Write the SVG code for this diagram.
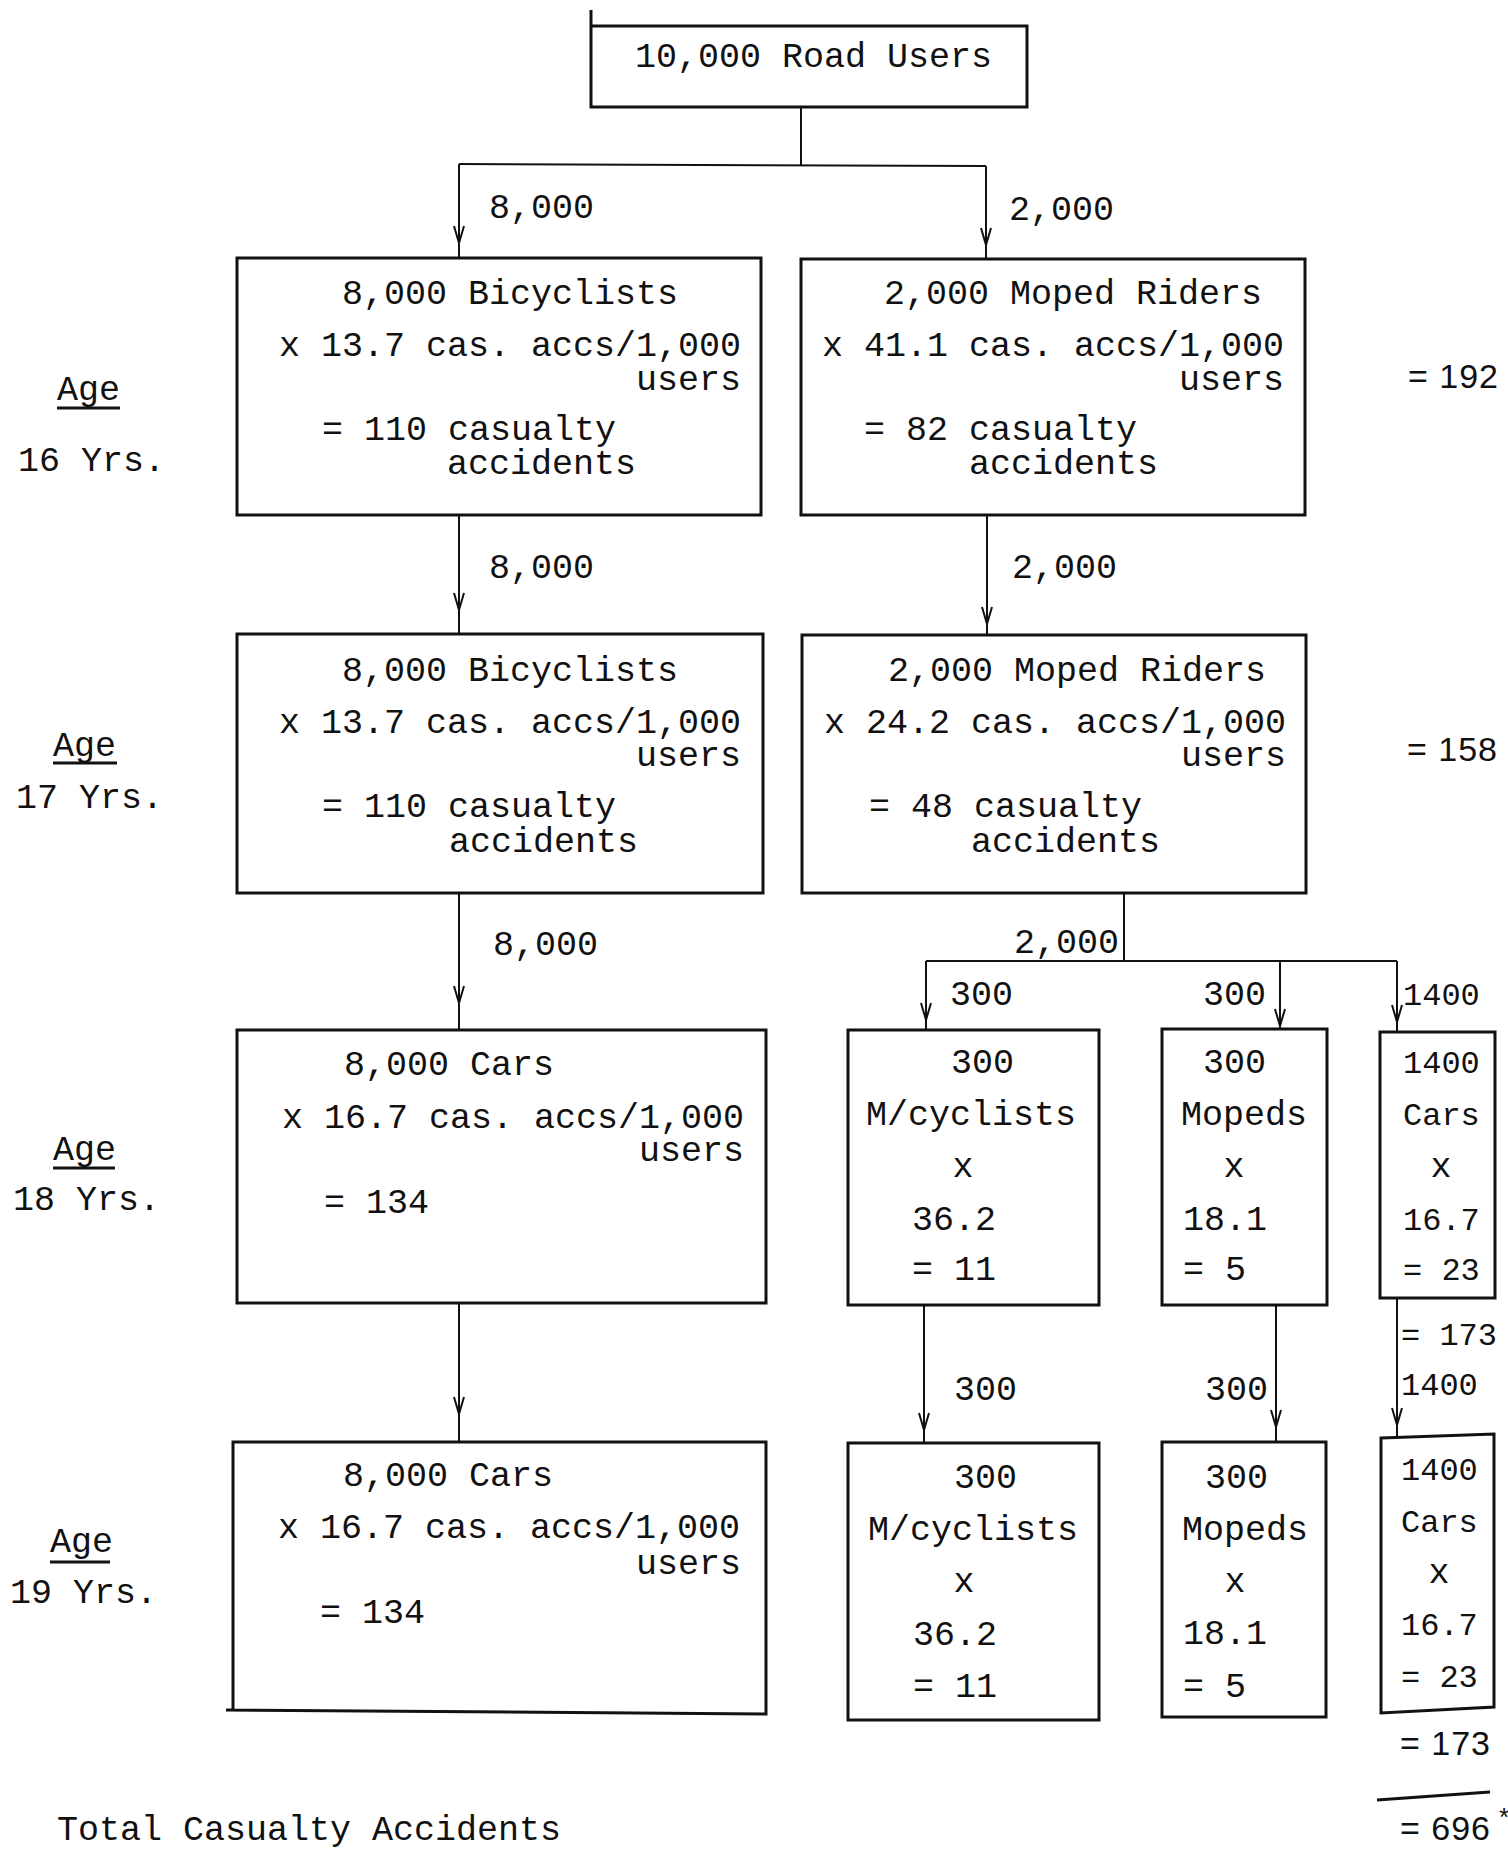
<svg xmlns="http://www.w3.org/2000/svg" width="1508" height="1849" viewBox="0 0 1508 1849">
<style>
.box{fill:none;stroke:#111;stroke-width:3;stroke-linejoin:miter}
.conn{fill:none;stroke:#111;stroke-width:2}
.ul{stroke:#111;stroke-width:3}
.t{font-family:"Liberation Mono","DejaVu Sans Mono",monospace;font-size:35px;fill:#111}
.s{font-size:32px}
.h{font-family:"Liberation Sans","DejaVu Sans",sans-serif;font-size:34px;fill:#111;letter-spacing:1px}
.e{text-anchor:end}
.m{text-anchor:middle}
</style>
<defs>
<marker id="v" markerUnits="userSpaceOnUse" viewBox="-20 -8 22 16" refX="0" refY="0" markerWidth="22" markerHeight="16" orient="auto">
<path d="M -17 -5 L 0 0 L -17 5" fill="none" stroke="#111" stroke-width="2"/>
</marker>
</defs>
<rect width="1508" height="1849" fill="#fff"/>

<g id="connectors">
<path class="conn" d="M 801 108 V 165"/>
<path class="conn" d="M 459 164 L 986 166"/>
<path class="conn" marker-mid="url(#v)" d="M 459 164 L 459 243 L 459 258"/>
<path class="conn" marker-mid="url(#v)" d="M 986 166 L 986 245 L 986 259"/>
<path class="conn" marker-mid="url(#v)" d="M 459 515 L 459 610 L 459 634"/>
<path class="conn" marker-mid="url(#v)" d="M 987 515 L 987 624 L 987 635"/>
<path class="conn" marker-mid="url(#v)" d="M 459 893 L 459 1003 L 459 1030"/>
<path class="conn" d="M 1124 893 V 961"/>
<path class="conn" d="M 926 961 H 1397"/>
<path class="conn" marker-mid="url(#v)" d="M 926 961 L 926 1020 L 926 1030"/>
<path class="conn" marker-mid="url(#v)" d="M 1280 961 L 1280 1026 L 1280 1029"/>
<path class="conn" marker-mid="url(#v)" d="M 1397 961 L 1397 1022 L 1397 1032"/>
<path class="conn" marker-mid="url(#v)" d="M 459 1303 L 459 1414 L 459 1442"/>
<path class="conn" marker-mid="url(#v)" d="M 924 1305 L 924 1430 L 924 1443"/>
<path class="conn" marker-mid="url(#v)" d="M 1276 1305 L 1276 1427 L 1276 1442"/>
<path class="conn" marker-mid="url(#v)" d="M 1397 1298 L 1397 1425 L 1397 1437"/>
<text class="t" x="489" y="218">8,000</text>
<text class="t" x="1009" y="220">2,000</text>
<text class="t" x="489" y="578">8,000</text>
<text class="t" x="1012" y="578">2,000</text>
<text class="t" x="493" y="955">8,000</text>
<text class="t" x="1014" y="953">2,000</text>
<text class="t" x="950" y="1005">300</text>
<text class="t" x="1203" y="1005">300</text>
<text class="t s" x="1403" y="1005">1400</text>
<text class="t" x="954" y="1400">300</text>
<text class="t" x="1205" y="1400">300</text>
<text class="t s" x="1401" y="1345">= 173</text>
<text class="t s" x="1401" y="1395">1400</text>
</g>

<g id="root">
<path class="box" d="M 591 10 V 107 H 1027 V 26 H 591"/>
<text class="t" x="635" y="67">10,000 Road Users</text>
</g>

<g id="bicyclists16">
<rect class="box" x="237" y="258" width="524" height="257"/>
<text class="t" x="342" y="304">8,000 Bicyclists</text>
<text class="t" x="279" y="356">x 13.7 cas. accs/1,000</text>
<text class="t e" x="741" y="390">users</text>
<text class="t" x="322" y="440">= 110 casualty</text>
<text class="t" x="447" y="474">accidents</text>
</g>

<g id="moped16">
<rect class="box" x="801" y="259" width="504" height="256"/>
<text class="t" x="884" y="304">2,000 Moped Riders</text>
<text class="t" x="822" y="356">x 41.1 cas. accs/1,000</text>
<text class="t e" x="1284" y="390">users</text>
<text class="t" x="864" y="440">= 82 casualty</text>
<text class="t" x="969" y="474">accidents</text>
</g>

<g id="bicyclists17">
<rect class="box" x="237" y="634" width="526" height="259"/>
<text class="t" x="342" y="681">8,000 Bicyclists</text>
<text class="t" x="279" y="733">x 13.7 cas. accs/1,000</text>
<text class="t e" x="741" y="766">users</text>
<text class="t" x="322" y="817">= 110 casualty</text>
<text class="t" x="449" y="852">accidents</text>
</g>

<g id="moped17">
<rect class="box" x="802" y="635" width="504" height="258"/>
<text class="t" x="888" y="681">2,000 Moped Riders</text>
<text class="t" x="824" y="733">x 24.2 cas. accs/1,000</text>
<text class="t e" x="1286" y="766">users</text>
<text class="t" x="869" y="817">= 48 casualty</text>
<text class="t" x="971" y="852">accidents</text>
</g>

<g id="cars18">
<rect class="box" x="237" y="1030" width="529" height="273"/>
<text class="t" x="344" y="1075">8,000 Cars</text>
<text class="t" x="282" y="1128">x 16.7 cas. accs/1,000</text>
<text class="t e" x="744" y="1161">users</text>
<text class="t" x="324" y="1213">= 134</text>
</g>

<g id="mcyc18">
<rect class="box" x="848" y="1030" width="251" height="275"/>
<text class="t" x="951" y="1073">300</text>
<text class="t" x="866" y="1125">M/cyclists</text>
<text class="t m" x="963" y="1177">x</text>
<text class="t" x="912" y="1230">36.2</text>
<text class="t" x="912" y="1280">= 11</text>
</g>

<g id="mopeds18">
<rect class="box" x="1162" y="1029" width="165" height="276"/>
<text class="t" x="1203" y="1073">300</text>
<text class="t" x="1181" y="1125">Mopeds</text>
<text class="t m" x="1234" y="1177">x</text>
<text class="t" x="1183" y="1230">18.1</text>
<text class="t" x="1183" y="1280">= 5</text>
</g>

<g id="carsR18">
<rect class="box" x="1380" y="1032" width="115" height="266"/>
<text class="t s" x="1403" y="1073">1400</text>
<text class="t s" x="1403" y="1125">Cars</text>
<text class="t m" x="1441" y="1177">x</text>
<text class="t s" x="1403" y="1230">16.7</text>
<text class="t s" x="1403" y="1280">= 23</text>
</g>

<g id="cars19">
<path class="box" d="M 233 1442 H 766 V 1714 L 226 1710 H 233 Z"/>
<text class="t" x="343" y="1486">8,000 Cars</text>
<text class="t" x="278" y="1538">x 16.7 cas. accs/1,000</text>
<text class="t e" x="741" y="1574">users</text>
<text class="t" x="320" y="1623">= 134</text>
</g>

<g id="mcyc19">
<rect class="box" x="848" y="1443" width="251" height="277"/>
<text class="t" x="954" y="1488">300</text>
<text class="t" x="868" y="1540">M/cyclists</text>
<text class="t m" x="964" y="1592">x</text>
<text class="t" x="913" y="1645">36.2</text>
<text class="t" x="913" y="1697">= 11</text>
</g>

<g id="mopeds19">
<rect class="box" x="1162" y="1442" width="164" height="275"/>
<text class="t" x="1205" y="1488">300</text>
<text class="t" x="1182" y="1540">Mopeds</text>
<text class="t m" x="1235" y="1592">x</text>
<text class="t" x="1183" y="1644">18.1</text>
<text class="t" x="1183" y="1697">= 5</text>
</g>

<g id="carsR19">
<path class="box" d="M 1381 1438 L 1494 1434 V 1707 L 1381 1713 Z"/>
<text class="t s" x="1401" y="1480">1400</text>
<text class="t s" x="1401" y="1532">Cars</text>
<text class="t m" x="1439" y="1583">x</text>
<text class="t s" x="1401" y="1635">16.7</text>
<text class="t s" x="1401" y="1687">= 23</text>
</g>

<g id="ages">
<text class="t" x="57" y="400">Age</text>
<line class="ul" x1="57" y1="408" x2="120" y2="408"/>
<text class="t" x="18" y="471">16 Yrs.</text>
<text class="t" x="53" y="756">Age</text>
<line class="ul" x1="53" y1="763" x2="117" y2="763"/>
<text class="t" x="16" y="808">17 Yrs.</text>
<text class="t" x="53" y="1160">Age</text>
<line class="ul" x1="53" y1="1168" x2="115" y2="1168"/>
<text class="t" x="13" y="1210">18 Yrs.</text>
<text class="t" x="50" y="1552">Age</text>
<line class="ul" x1="50" y1="1562" x2="110" y2="1562"/>
<text class="t" x="10" y="1603">19 Yrs.</text>
</g>

<g id="totals">
<text class="h" x="1408" y="388">= 192</text>
<text class="h" x="1407" y="761">= 158</text>
<text class="h" x="1400" y="1755">= 173</text>
<line x1="1377" y1="1800" x2="1490" y2="1792" stroke="#111" stroke-width="3"/>
<text class="h" x="1400" y="1840">= 696</text>
<text class="h" x="1499" y="1826" style="font-size:26px">*</text>
<text class="t" x="57" y="1840">Total Casualty Accidents</text>
</g>
</svg>
